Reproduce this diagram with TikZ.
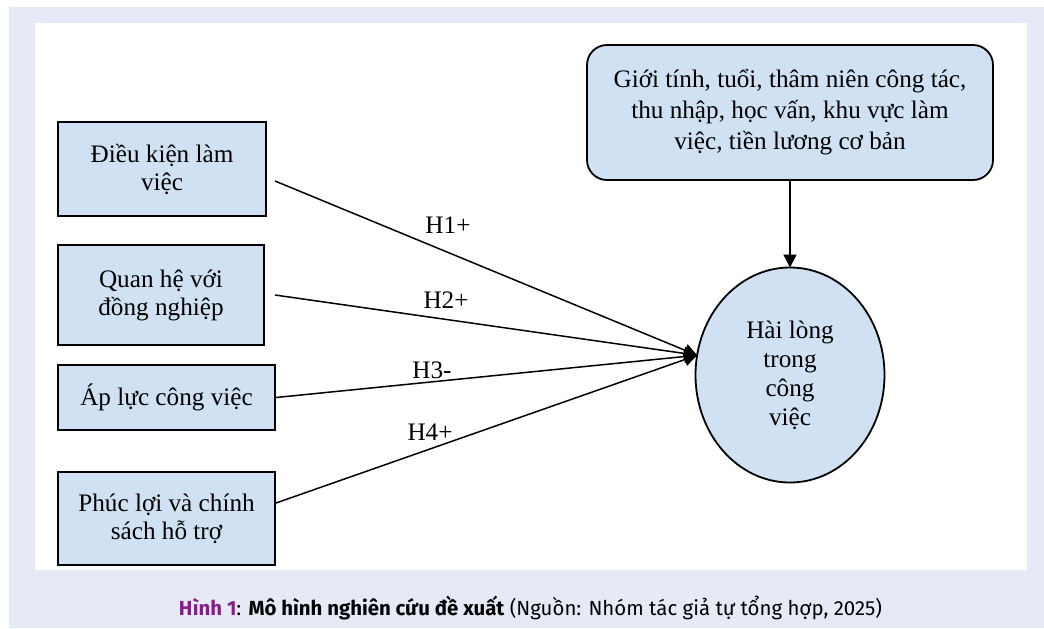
\documentclass[tikz,border=0pt]{standalone}
\usepackage{fontspec}
\setmainfont{Liberation Serif}
\newfontfamily\capfont{Fira Sans}
\usepackage{tikz}
\usetikzlibrary{positioning, shapes.geometric, arrows.meta}
\definecolor{boxblue}{RGB}{207,225,242}
\definecolor{pagebg}{RGB}{230,234,246}
\definecolor{figpurple}{RGB}{139,26,139}

\begin{document}
\begin{tikzpicture}[x=0.5pt, y=-0.5pt, outer sep=0pt,
        every node/.style={font=\fontsize{12.6}{14}\selectfont, align=center},
        factor/.style={draw, line width=0.9pt, fill=boxblue, rectangle, inner sep=0pt},
        ctrl/.style={draw, line width=0.9pt, fill=boxblue, rectangle, rounded corners=10pt, minimum width=203pt, minimum height=67.5pt, font=\fontsize{12.6}{15.5}\selectfont},
        outcome/.style={draw, line width=0.9pt, fill=boxblue, ellipse, inner sep=0pt, minimum width=94.5pt, minimum height=107.5pt, font=\fontsize{12.6}{14.5}\selectfont},
        hyp/.style={inner sep=0pt},
        link/.style={line width=0.75pt, -{Triangle[length=6.5pt, width=6.5pt]}}]
        \useasboundingbox (0,0) rectangle (1044,628);
        \fill[pagebg] (9,7) rectangle (1044,628);
        \fill[white] (35,23) rectangle (1027,570);

        \node (dk) [factor, minimum width=104pt, minimum height=47pt] at (162,169) {Điều kiện làm\\việc};
        \node (qh) [factor, minimum width=103pt, minimum height=50pt] at (161,295) {Quan hệ với\\đồng nghiệp};
        \node (al) [factor, minimum width=108.5pt, minimum height=32.5pt] at (166.5,397.5) {Áp lực công việc};
        \node (pl) [factor, minimum width=108.5pt, minimum height=46.5pt] at (166.5,518.5) {Phúc lợi và chính\\sách hỗ trợ};

        \node (ks) [ctrl] at (790,112.5) {Giới tính, tuổi, thâm niên công tác,\\thu nhập, học vấn, khu vực làm\\việc, tiền lương cơ bản};
        \node (hl) [outcome] at (790,375) {Hài lòng\\trong\\công\\việc};
        \coordinate (tip) at (hl.168);

        \draw[link] ([shift={(9,12)}]dk.east) -- (tip);
        \draw[link] ([shift={(11,0)}]qh.east) -- (tip);
        \draw[link] ([shift={(1,0)}]al.east) -- (tip);
        \draw[link] ([shift={(1,-15.5)}]pl.east) -- (tip);
        \draw[link] (ks.south) -- (hl.north);

        \node (h1) [hyp] at (448,225) {H1+};
        \node (h2) [hyp] at (446,300) {H2+};
        \node (h3) [hyp] at (432,370) {H3-};
        \node (h4) [hyp] at (430,432) {H4+};

        \node (cap) [font=\capfont\fontsize{10.2}{12}\selectfont, anchor=base] at (530.5,615) {\textcolor{figpurple}{\bfseries Hình 1}: {\bfseries Mô hình nghiên cứu đề xuất} (Nguồn: Nhóm tác giả tự tổng hợp, 2025)};
    \end{tikzpicture}
\end{document}
